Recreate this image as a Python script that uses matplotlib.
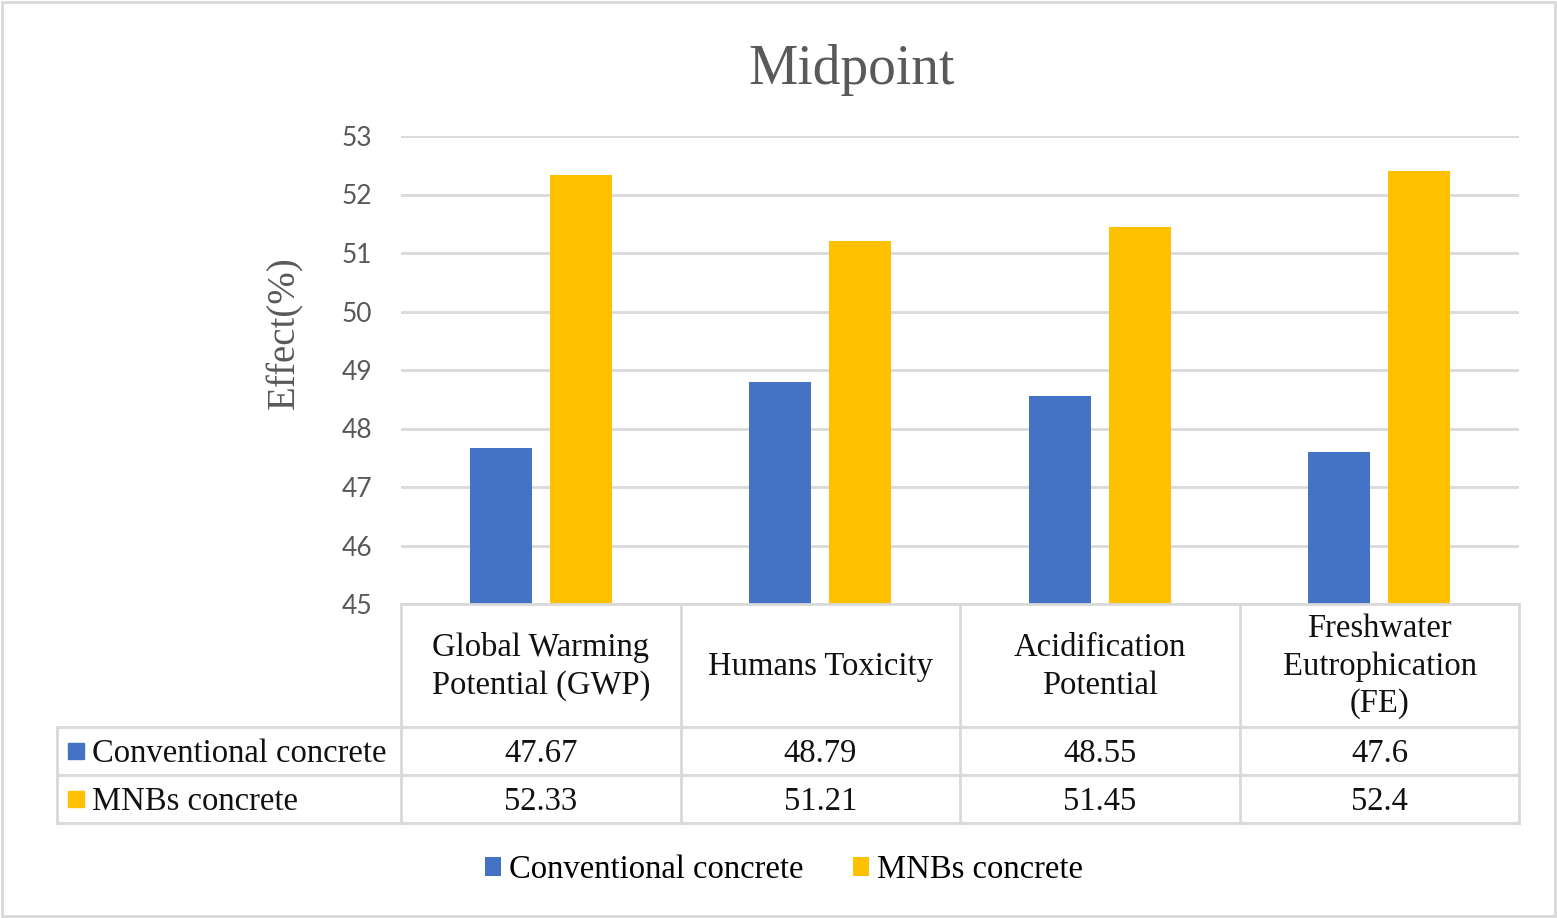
import matplotlib.pyplot as plt
from matplotlib.patches import Rectangle
from matplotlib.lines import Line2D

# data
categories = ["Global Warming\nPotential (GWP)", "Humans Toxicity",
              "Acidification\nPotential", "Freshwater\nEutrophication\n(FE)"]
series_names = ["Conventional concrete", "MNBs concrete"]
conventional = [47.67, 48.79, 48.55, 47.6]
mnbs = [52.33, 51.21, 51.45, 52.4]
conventional_lbl = ["47.67", "48.79", "48.55", "47.6"]
mnbs_lbl = ["52.33", "51.21", "51.45", "52.4"]
yticks = [45, 46, 47, 48, 49, 50, 51, 52, 53]

BLUE = "#4472C4"
YELLOW = "#FFC000"
GRID = "#D9D9D9"
GREY = "#595959"
SERIF = "Liberation Serif"
SANS = "Lato"

W, H = 1557, 918
fig = plt.figure(figsize=(W / 100, H / 100), dpi=100)


def fx(px):
    return px / W


def fy(py):
    return 1 - py / H


# plot area
left, right, top, bottom = 401, 1519, 136, 604
ax = fig.add_axes([fx(left), fy(bottom), fx(right - left), (bottom - top) / H])
x = list(range(len(categories)))
bw = 0.222
off = 0.143
ax.bar([i - off for i in x], conventional, width=bw, color=BLUE, label=series_names[0], zorder=3)
ax.bar([i + off for i in x], mnbs, width=bw, color=YELLOW, label=series_names[1], zorder=3)
ax.set_xlim(-0.5, len(categories) - 0.5)
ax.set_ylim(45, 53)
ax.set_yticks(yticks)
ax.set_xticks([])
ax.yaxis.grid(True, color=GRID, lw=2, zorder=0)
for s in ax.spines.values():
    s.set_visible(False)
ax.tick_params(axis="y", length=0, pad=21, labelsize=19, labelcolor=GREY)
for t in ax.get_yticklabels():
    t.set_fontfamily(SANS)
ax.set_facecolor("none")

# title and y label
fig.text(fx(852), fy(70), "Midpoint", ha="center", va="center",
         fontsize=40, color=GREY, family=SERIF)
fig.text(fx(285), fy(333), "Effect(%)", ha="center", va="center", rotation=90,
         fontsize=28, color=GREY, family=SERIF)

# data table
cols = [401, 681, 960, 1240, 1519]
rows = [604, 727, 775, 823]
tleft = 57
lw = 2
# horizontal lines
fig.add_artist(Line2D([fx(cols[0]), fx(cols[-1])], [fy(rows[0])] * 2, color=GRID, lw=lw))
for r in rows[1:]:
    fig.add_artist(Line2D([fx(tleft), fx(cols[-1])], [fy(r)] * 2, color=GRID, lw=lw))
# vertical lines
for c in cols:
    fig.add_artist(Line2D([fx(c)] * 2, [fy(rows[0]), fy(rows[-1])], color=GRID, lw=lw))
fig.add_artist(Line2D([fx(tleft)] * 2, [fy(rows[1]), fy(rows[-1])], color=GRID, lw=lw))

centers = [(cols[i] + cols[i + 1]) / 2 for i in range(len(categories))]
for cx, cat in zip(centers, categories):
    fig.text(fx(cx), fy((rows[0] + rows[1]) / 2 + 1), cat, ha="center", va="center",
             fontsize=23.5, family=SERIF, linespacing=1.3, color="#111111")

for ri, (vals, name, col) in enumerate([(conventional_lbl, series_names[0], BLUE),
                                        (mnbs_lbl, series_names[1], YELLOW)]):
    cy = (rows[ri + 1] + rows[ri + 2]) / 2 + 3
    fig.add_artist(Rectangle((fx(68), fy(cy + 5)), fx(16), 16 / H, color=col,
                             transform=fig.transFigure))
    fig.text(fx(92), fy(cy), name, ha="left", va="center", fontsize=23.5,
             family=SERIF, color="#111111")
    for cx, v in zip(centers, vals):
        fig.text(fx(cx), fy(cy), v, ha="center", va="center", fontsize=23.5,
                 family=SERIF, color="#111111")

# legend
handles, labels = ax.get_legend_handles_labels()
fig.legend(handles, labels, loc="center", bbox_to_anchor=(fx(784), fy(870)),
           ncol=2, frameon=False, prop={"family": SERIF, "size": 23.5},
           handlelength=0.5, handleheight=0.5, handletextpad=0.25, columnspacing=1.5)

# outer border
fig.add_artist(Rectangle((0.001, 0.002), 0.998, 0.996, fill=False, edgecolor=GRID,
                         lw=2, transform=fig.transFigure))

fig.savefig("out.png", dpi=100)
